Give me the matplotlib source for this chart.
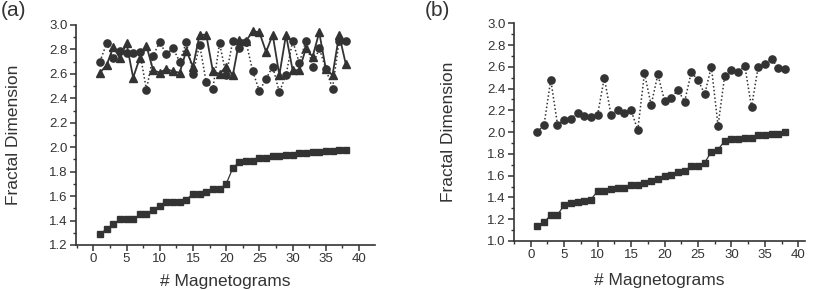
import matplotlib.pyplot as plt
from matplotlib.ticker import MultipleLocator, FormatStrFormatter

plt.rcParams['font.family'] = ['Liberation Sans', 'DejaVu Sans']

# number of magnetograms, 1..38
magnetograms = list(range(1, 39))

# panel (a)
a_squares = [1.29, 1.33, 1.37, 1.41, 1.41, 1.41, 1.45, 1.45, 1.49, 1.52,
             1.55, 1.55, 1.55, 1.57, 1.62, 1.62, 1.63, 1.66, 1.66, 1.70,
             1.83, 1.88, 1.89, 1.89, 1.91, 1.91, 1.93, 1.93, 1.94, 1.94,
             1.95, 1.95, 1.96, 1.96, 1.97, 1.97, 1.98, 1.98]
a_circles = [2.70, 2.85, 2.73, 2.79, 2.77, 2.77, 2.78, 2.47, 2.75, 2.86,
             2.76, 2.81, 2.70, 2.86, 2.60, 2.84, 2.53, 2.48, 2.85, 2.59,
             2.87, 2.81, 2.86, 2.62, 2.46, 2.56, 2.66, 2.45, 2.59, 2.87,
             2.69, 2.87, 2.66, 2.81, 2.64, 2.48, 2.87, 2.87]
a_triangles = [2.61, 2.67, 2.82, 2.73, 2.85, 2.57, 2.73, 2.83, 2.63, 2.61,
               2.64, 2.62, 2.61, 2.79, 2.66, 2.92, 2.92, 2.62, 2.60, 2.66,
               2.59, 2.88, 2.87, 2.95, 2.94, 2.78, 2.92, 2.59, 2.92, 2.63,
               2.63, 2.81, 2.74, 2.94, 2.64, 2.59, 2.92, 2.68]

# panel (b)
b_squares = [1.14, 1.17, 1.24, 1.24, 1.33, 1.35, 1.36, 1.37, 1.38, 1.46,
             1.46, 1.48, 1.49, 1.49, 1.51, 1.51, 1.53, 1.55, 1.57, 1.60,
             1.61, 1.63, 1.64, 1.69, 1.69, 1.72, 1.82, 1.84, 1.92, 1.94,
             1.94, 1.95, 1.95, 1.97, 1.97, 1.98, 1.98, 2.00]
b_circles = [2.00, 2.07, 2.48, 2.07, 2.11, 2.12, 2.18, 2.15, 2.14, 2.16,
             2.50, 2.16, 2.20, 2.18, 2.20, 2.02, 2.54, 2.25, 2.53, 2.29,
             2.31, 2.39, 2.28, 2.55, 2.48, 2.35, 2.60, 2.06, 2.52, 2.57,
             2.55, 2.61, 2.23, 2.60, 2.63, 2.67, 2.59, 2.58]

col = '#333333'
dots = (0, (1, 1.5))

fig = plt.figure(figsize=(8.13, 2.9), dpi=100)
ax1 = fig.add_axes([0.0935, 0.1552, 0.3678, 0.7586])
ax2 = fig.add_axes([0.6322, 0.1690, 0.3580, 0.7507])

ax1.plot(magnetograms, a_squares, color=col, lw=0.9, marker='s', ms=4.9, mec=col, mfc=col)
ax1.plot(magnetograms, a_triangles, color=col, lw=1.3, marker='^', ms=5.2, mec=col, mfc=col)
ax1.plot(magnetograms, a_circles, color=col, lw=1.1, ls=dots, marker='o', ms=5.2, mec=col, mfc=col)

ax2.plot(magnetograms, b_squares, color=col, lw=0.9, marker='s', ms=4.9, mec=col, mfc=col)
ax2.plot(magnetograms, b_circles, color=col, lw=1.1, ls=dots, marker='o', ms=5.2, mec=col, mfc=col)

ax1.set_xlim(-2.6, 42.4)
ax1.set_ylim(1.2, 3.0)
ax2.set_xlim(-2.5, 41.0)
ax2.set_ylim(1.0, 3.0)

for ax, lx, ly in [(ax1, -0.184, -0.132), (ax2, -0.199, -0.147)]:
    for s in ['top', 'right']:
        ax.spines[s].set_visible(False)
    for s in ['left', 'bottom']:
        ax.spines[s].set_linewidth(1.2)
        ax.spines[s].set_color(col)
    ax.xaxis.set_major_locator(MultipleLocator(5))
    ax.xaxis.set_minor_locator(MultipleLocator(2.5))
    ax.yaxis.set_major_locator(MultipleLocator(0.2))
    ax.yaxis.set_minor_locator(MultipleLocator(0.1))
    ax.yaxis.set_major_formatter(FormatStrFormatter('%.1f'))
    ax.tick_params(which='major', direction='out', length=4, width=1.1, color=col,
                   labelsize=9.5, labelcolor=col, pad=2)
    ax.tick_params(which='minor', direction='out', length=2.5, width=1.0, color=col)
    ax.set_ylabel('Fractal Dimension', fontsize=12.5, color=col)
    ax.set_xlabel('# Magnetograms', fontsize=12.5, color=col)
    ax.yaxis.set_label_coords(lx, 0.5)
    ax.xaxis.set_label_coords(0.5, ly)

fig.text(13 / 813, 1 - 11 / 290, '(a)', fontsize=15, color=col, ha='center', va='center')
fig.text(437 / 813, 1 - 11 / 290, '(b)', fontsize=15, color=col, ha='center', va='center')

fig.savefig('out.png', dpi=100)
